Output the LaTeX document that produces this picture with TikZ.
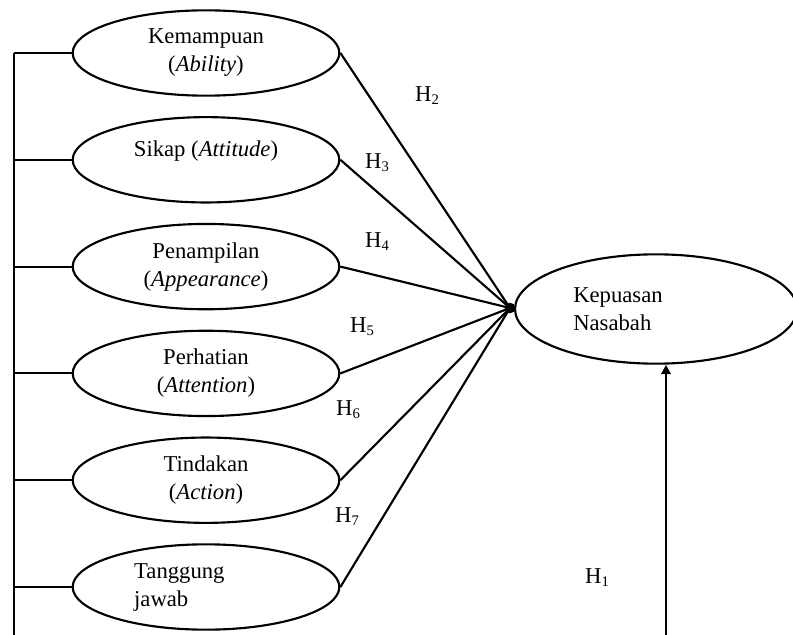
\documentclass[tikz,border=0pt]{standalone}
\usepackage{fontspec}
\setmainfont{Liberation Serif}
\usetikzlibrary{arrows.meta,positioning,shapes.geometric}
\newcommand{\hyp}[1]{H\raisebox{-0.3ex}{\fontsize{11}{11}\selectfont #1}}

\begin{document}
\begin{tikzpicture}[x=0.75pt,y=-0.75pt,line width=1.6pt,node distance=14.5pt,
    construct/.style={draw,ellipse,minimum width=200pt,minimum height=64pt,inner sep=0pt,align=center,font=\fontsize{17}{21}\selectfont},
    hlabel/.style={font=\fontsize{17}{21}\selectfont}]
      \useasboundingbox (0,0) rectangle (793,635);
      \node[construct] (kem) at (206,53) {Kemampuan\\(\textit{Ability})};
      \node[construct,below=of kem] (sik) {\raisebox{6.5pt}[\height][\depth]{Sikap (\textit{Attitude})}};
      \node[construct,below=of sik] (pen) {Penampilan\\(\textit{Appearance})};
      \node[construct,below=of pen] (per) {Perhatian\\(\textit{Attention})};
      \node[construct,below=of per] (tin) {Tindakan\\(\textit{Action})};
      \node[construct,below=of tin,align=left] (tan) {Tanggung\hspace*{40pt}\\jawab};
      \node[construct,minimum width=211.5pt,minimum height=82pt,align=left] (kep) at (656,309) {Kepuasan\hspace*{57pt}\\Nasabah};
      \coordinate (hub) at (510,308);
      \coordinate (bustop) at (14,53);
      \coordinate (busbot) at (14,635);
      \coordinate (h1foot) at (666,635);
      \draw (bustop) -- (busbot);
      \foreach \n in {kem,sik,pen,per,tin,tan} {
        \draw (\n.west) -- (\n.west -| bustop);
        \draw (\n.east) -- (hub);
      }
      \fill (hub) circle (4pt);
      \draw[-{Triangle[length=7pt,width=7pt]}] (h1foot) -- (h1foot |- kep.south);
      \node[hlabel] (h2) at (427,96) {\hyp{2}};
      \node[hlabel] (h3) at (377,163) {\hyp{3}};
      \node[hlabel] (h4) at (377,242) {\hyp{4}};
      \node[hlabel] (h5) at (362,327) {\hyp{5}};
      \node[hlabel] (h6) at (348,410) {\hyp{6}};
      \node[hlabel] (h7) at (347,517) {\hyp{7}};
      \node[hlabel] (h1) at (597,578) {\hyp{1}};
    \end{tikzpicture}
\end{document}
